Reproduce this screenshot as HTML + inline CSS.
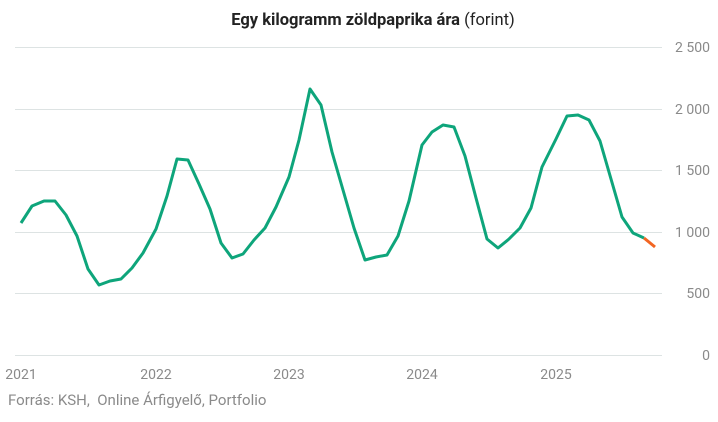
<!DOCTYPE html>
<html><head><meta charset="utf-8"><style>
body{margin:0;background:#fff;width:718px;height:417px;overflow:hidden}
</style></head><body>
<svg width="718" height="417" xmlns="http://www.w3.org/2000/svg" font-family="Roboto, 'Liberation Sans', sans-serif">
<text x="373" y="25" text-anchor="middle" font-size="16.5" fill="#222"><tspan font-weight="bold">Egy kilogramm zöldpaprika ára</tspan> (forint)</text>
<g stroke="#dde3e3" stroke-width="1">
<line x1="15" x2="662" y1="47.5" y2="47.5"/>
<line x1="15" x2="662" y1="109.5" y2="109.5"/>
<line x1="15" x2="662" y1="170.5" y2="170.5"/>
<line x1="15" x2="662" y1="232.5" y2="232.5"/>
<line x1="15" x2="662" y1="293.5" y2="293.5"/>
<line x1="15" x2="662" y1="355.5" y2="355.5"/>
</g>
<g font-size="14" fill="#8a8a8a" text-anchor="end">
<text x="710" y="52">2 500</text>
<text x="710" y="114">2 000</text>
<text x="710" y="175">1 500</text>
<text x="710" y="237">1 000</text>
<text x="710" y="298">500</text>
<text x="710" y="360">0</text>
</g>
<g font-size="14" fill="#8a8a8a" text-anchor="middle">
<text x="21" y="379">2021</text>
<text x="156" y="379">2022</text>
<text x="289" y="379">2023</text>
<text x="422" y="379">2024</text>
<text x="556" y="379">2025</text>
</g>
<polyline fill="none" stroke="#0ea57b" stroke-width="3" stroke-linejoin="round" points="21,223 32,206 44,201 55,201 66,215 77,236 88,269 99,285 110,281 121,279 132,268 143,253 156,229 167,196 177,159 188,160 199,184 210,209 221,243 232,258 243,254 254,240 265,228 276,207 289,177 299,140 310,89 321,105 332,152 343,190 354,228 365,260 376,257 387,255 398,236 409,201 422,145 432,132 443,125 454,127 465,156 476,198 487,239 498,248 509,239 520,228 531,208 542,167 556,139 567,116 578,115 589,120 600,141 611,179 622,217 633,233 644,238"/>
<polyline fill="none" stroke="#f26522" stroke-width="3" points="644,238 655,247"/>
<text x="8" y="405" font-size="15" fill="#8a8a8a" xml:space="preserve">Forrás: KSH,  Online Árfigyelő, Portfolio</text>
</svg>
</body></html>
